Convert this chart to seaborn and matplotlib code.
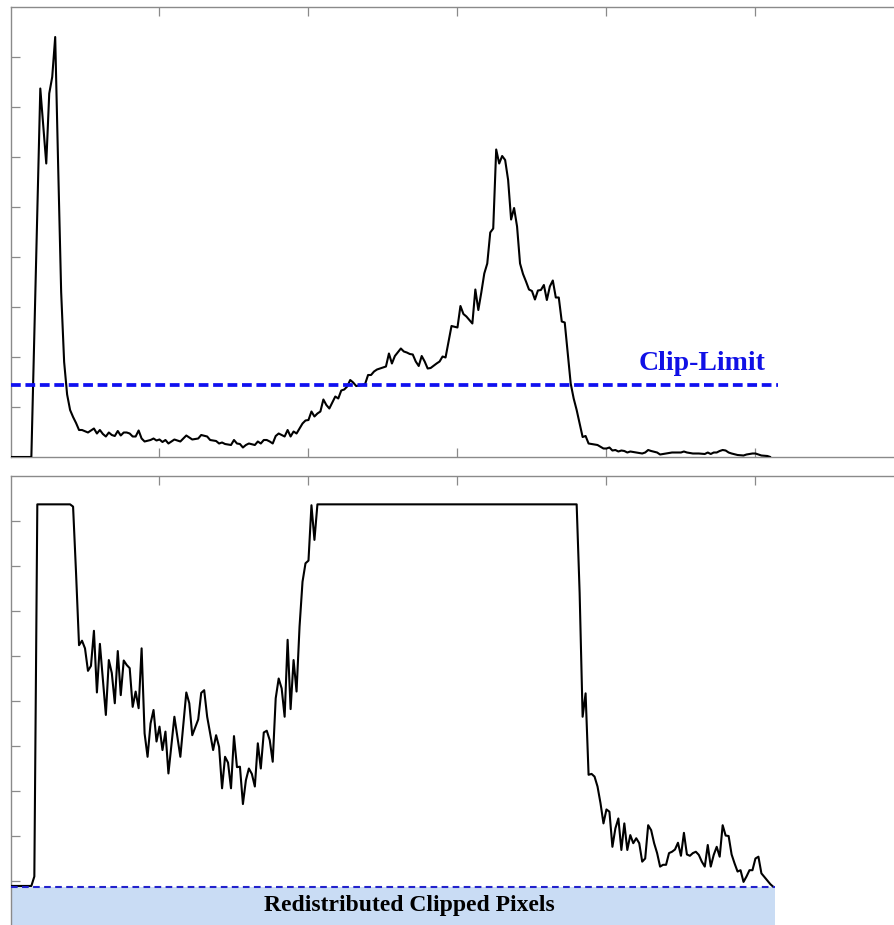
import matplotlib
matplotlib.use("Agg")
import matplotlib.pyplot as plt
import seaborn as sns

# ---- original histogram (grey level -> pixel count) ----
top_bins = [
    0, 7, 10, 12, 13, 14, 15, 16, 17, 18,
    19, 20, 21, 22, 23, 24, 26, 28, 29, 30,
    31, 32, 33, 34, 35, 36, 37, 38, 39, 40,
    41, 42, 43, 44, 45, 47, 48, 49, 50, 51,
    52, 53, 55, 57, 59, 60, 61, 63, 64, 66,
    67, 69, 70, 71, 72, 74, 75, 76, 77, 78,
    79, 80, 82, 83, 84, 85, 86, 87, 88, 89,
    90, 91, 92, 93, 94, 95, 96, 97, 98, 99,
    100, 101, 102, 103, 104, 105, 106, 107, 108, 109,
    110, 111, 112, 113, 114, 115, 116, 118, 119, 120,
    121, 122, 123, 124, 125, 126, 127, 128, 129, 131,
    132, 133, 134, 135, 136, 137, 138, 139, 140, 141,
    143, 144, 145, 146, 147, 148, 150, 151, 152, 153,
    155, 156, 157, 158, 159, 160, 161, 162, 163, 164,
    165, 166, 167, 168, 169, 170, 171, 172, 173, 174,
    175, 176, 177, 178, 179, 180, 181, 182, 183, 184,
    185, 186, 187, 188, 189, 190, 191, 192, 193, 194,
    195, 197, 199, 200, 201, 202, 203, 204, 205, 206,
    207, 208, 210, 212, 213, 214, 215, 217, 218, 220,
    222, 223, 225, 226, 227, 229, 231, 233, 234, 235,
    236, 237, 238, 239, 240, 241, 242, 244, 246, 247,
    249, 250, 251, 252, 254, 255,
]
top_counts = [
    0, 0, 7370, 5870, 7270, 7600, 8400, 5800, 3300, 1900,
    1250, 940, 800, 680, 540, 540, 490, 570, 470, 540,
    460, 410, 490, 440, 420, 520, 430, 490, 490, 470,
    410, 410, 530, 370, 310, 340, 370, 330, 350, 300,
    340, 270, 350, 310, 430, 390, 350, 370, 440, 410,
    340, 320, 270, 290, 260, 240, 340, 270, 260, 190,
    240, 270, 240, 310, 270, 340, 340, 310, 270, 420,
    470, 440, 410, 540, 410, 510, 470, 570, 670, 730,
    740, 910, 810, 870, 910, 1150, 1040, 970, 1090, 1210,
    1170, 1330, 1350, 1410, 1540, 1490, 1420, 1440, 1460, 1640,
    1640, 1710, 1750, 1770, 1790, 1810, 2070, 1870, 2020, 2170,
    2110, 2090, 2060, 2050, 1910, 1820, 2020, 1910, 1770, 1780,
    1870, 1910, 2010, 1990, 2310, 2620, 2590, 3020, 2860, 2810,
    2670, 3350, 2940, 3290, 3670, 3870, 4490, 4570, 6150, 5870,
    6020, 5940, 5540, 4750, 4980, 4610, 3870, 3660, 3510, 3350,
    3320, 3150, 3330, 3340, 3440, 3140, 3410, 3530, 3190, 3190,
    2710, 2690, 2070, 1470, 1170, 940, 670, 400, 420, 270,
    260, 240, 170, 170, 190, 130, 140, 110, 130, 120,
    90, 110, 90, 70, 90, 140, 120, 90, 50, 70,
    90, 90, 90, 110, 90, 70, 70, 60, 90, 60,
    90, 90, 120, 140, 130, 90, 70, 40, 30, 50,
    70, 70, 50, 30, 20, 0,
]
clip_limit = 1440

# ---- clipped histogram with the excess spread over all levels ----
clipped_bins = [
    0, 7, 8, 9, 20, 21, 22, 23, 24, 25,
    26, 27, 28, 29, 30, 32, 33, 34, 35, 36,
    37, 38, 39, 40, 41, 42, 43, 44, 45, 46,
    47, 48, 49, 50, 51, 52, 53, 55, 57, 59,
    60, 61, 63, 64, 65, 66, 68, 69, 70, 71,
    72, 73, 74, 75, 76, 77, 78, 79, 80, 81,
    82, 83, 84, 85, 86, 87, 88, 89, 90, 91,
    92, 93, 94, 95, 96, 97, 98, 99, 100, 101,
    102, 103, 190, 191, 192, 193, 194, 195, 196, 197,
    198, 199, 200, 201, 202, 203, 204, 205, 206, 207,
    208, 209, 210, 211, 212, 213, 214, 215, 216, 217,
    218, 219, 220, 221, 222, 223, 224, 225, 226, 227,
    228, 229, 230, 231, 232, 233, 234, 235, 236, 237,
    238, 239, 240, 241, 242, 243, 244, 245, 246, 247,
    248, 249, 250, 251, 252, 254, 255, 256,
]
clipped_counts = [
    89, 89, 110, 937, 937, 932, 784, 624, 634, 617,
    567, 578, 656, 519, 627, 469, 591, 562, 495, 611,
    513, 590, 580, 573, 487, 521, 484, 617, 428, 376,
    450, 480, 410, 443, 391, 432, 339, 465, 376, 519,
    495, 424, 459, 518, 524, 465, 391, 424, 398, 306,
    376, 363, 306, 422, 353, 354, 271, 324, 350, 338,
    310, 406, 350, 430, 434, 413, 365, 506, 550, 528,
    465, 636, 482, 591, 521, 665, 765, 806, 812, 935,
    858, 937, 937, 740, 465, 517, 336, 338, 332, 310,
    273, 228, 259, 254, 176, 217, 239, 169, 228, 169,
    202, 184, 195, 184, 143, 150, 224, 213, 184, 162,
    132, 136, 136, 162, 165, 170, 185, 156, 207, 159,
    156, 162, 165, 158, 143, 132, 180, 132, 158, 176,
    154, 224, 201, 200, 159, 139, 121, 124, 98, 110,
    124, 124, 150, 154, 117, 101, 93, 87,
]
redistributed_level = 87

x_ticks = [50, 100, 150, 200, 250]
top_y_ticks = [1000, 2000, 3000, 4000, 5000, 6000, 7000, 8000]
bottom_y_ticks = [100, 200, 300, 400, 500, 600, 700, 800, 900]

sns.set_theme(style="white")
plt.rcParams["font.family"] = ["Liberation Serif", "DejaVu Serif"]

W, H = 894, 925
fig = plt.figure(figsize=(W / 100, H / 100), dpi=100)
ax_top = fig.add_axes([10.5 / W, (H - 457) / H, (W - 10.5) / W, 450 / H])
ax_bot = fig.add_axes([10.5 / W, (H - 926) / H, (W - 10.5) / W, 450 / H])

spine_grey = "#8a8a8a"


def style_axes(ax, yticks, ymax):
    ax.set_xlim(0, 296.5)
    ax.set_ylim(0, ymax)
    ax.set_xticks(x_ticks)
    ax.set_yticks(yticks)
    ax.set_xticklabels([])
    ax.set_yticklabels([])
    ax.set_xlabel("")
    ax.set_ylabel("")
    for side in ("top", "left", "bottom"):
        ax.spines[side].set_visible(True)
        ax.spines[side].set_color(spine_grey)
        ax.spines[side].set_linewidth(1.0)
    ax.spines["right"].set_visible(False)
    ax.tick_params(axis="x", direction="in", top=True, bottom=True,
                   length=6.3, width=0.9, color=spine_grey)
    ax.tick_params(axis="y", direction="in", left=True, right=False,
                   length=6.3, width=0.9, color=spine_grey)


# top: original histogram with clip limit
sns.lineplot(x=top_bins, y=top_counts, ax=ax_top, color="black",
             linewidth=1.5, zorder=3)
ax_top.hlines(clip_limit, 0, 257.5, colors="#1010f0",
              linestyles=[(0, (2.6, 1.25))], linewidth=2.7, zorder=4)
ax_top.text(232, 1730, "Clip-Limit", color="#1010e6", fontsize=20,
            fontweight="bold", ha="center", va="baseline", zorder=5)
style_axes(ax_top, top_y_ticks, 9000)

# bottom: clipped histogram raised by the redistributed pixels
ax_bot.fill_between([0, 256.5], 0, redistributed_level, color="#c9dcf4",
                    linewidth=0, zorder=1)
sns.lineplot(x=clipped_bins, y=clipped_counts, ax=ax_bot, color="black",
             linewidth=1.5, zorder=3)
ax_bot.hlines(redistributed_level, 0, 256.5, colors="#2222cc",
              linestyles=[(0, (3.2, 2.1))], linewidth=1.5, zorder=4)
ax_bot.text(134, 34, "Redistributed Clipped Pixels", color="black",
            fontsize=17, fontweight="bold", ha="center", va="baseline",
            zorder=5)
style_axes(ax_bot, bottom_y_ticks, 1000)

fig.savefig("out.png", dpi=100)
